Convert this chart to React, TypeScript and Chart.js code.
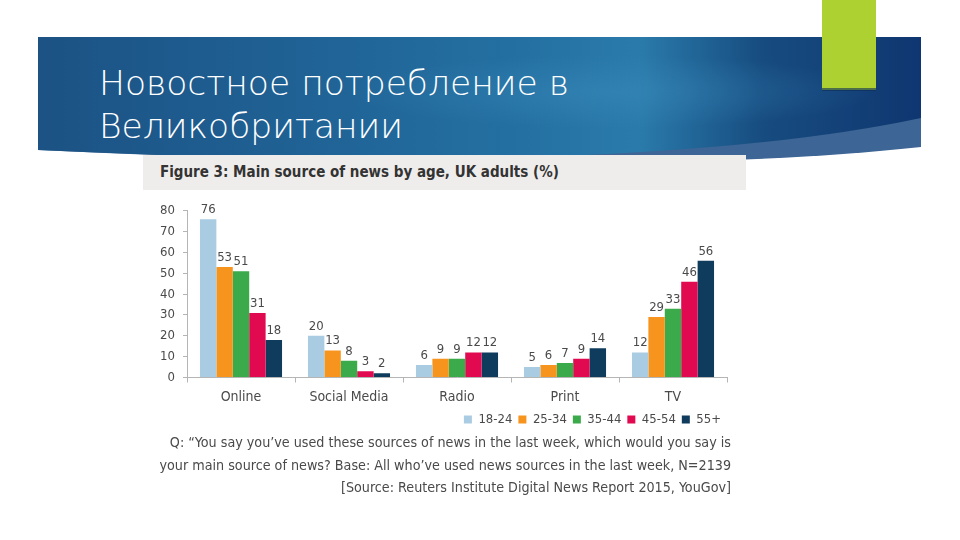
import React, { useEffect, useRef } from "react";
import { Chart, registerables } from "chart.js";

Chart.register(...registerables);

const categories = ["Online", "Social Media", "Radio", "Print", "TV"];
const ageGroups = ["18-24", "25-34", "35-44", "45-54", "55+"];
const age18to24 = [76, 20, 6, 5, 12];
const age25to34 = [53, 13, 9, 6, 29];
const age35to44 = [51, 8, 9, 7, 33];
const age45to54 = [31, 3, 12, 9, 46];
const age55plus = [18, 2, 12, 14, 56];
const seriesColors = ["#a9cce3", "#f7941d", "#3aaa4a", "#e10a50", "#0f3b5c"];
const yTicks = [0, 10, 20, 30, 40, 50, 60, 70, 80];

const slideTitle = ["Новостное потребление в", "Великобритании"];
const figureTitle = "Figure 3: Main source of news by age, UK adults (%)";
const footnote = [
  "Q: \u201CYou say you\u2019ve used these sources of news in the last week, which would you say is",
  "your main source of news? Base: All who\u2019ve used news sources in the last week, N=2139",
  "[Source: Reuters Institute Digital News Report 2015, YouGov]",
];

const FONT = '"Liberation Sans Narrow", "DejaVu Sans Condensed", "Open Sans", sans-serif';

const valueLabels = {
  id: "valueLabels",
  afterDatasetsDraw(chart: any) {
    const ctx = chart.ctx;
    ctx.save();
    ctx.font = `13px ${FONT}`;
    ctx.fillStyle = "#4a4a4a";
    ctx.textAlign = "center";
    ctx.textBaseline = "bottom";
    chart.data.datasets.forEach((ds: any, i: number) => {
      const meta = chart.getDatasetMeta(i);
      meta.data.forEach((bar: any, j: number) => {
        ctx.fillText(String(ds.data[j]), bar.x, bar.y - 3);
      });
    });
    ctx.restore();
  },
};

function BarChart() {
  const ref = useRef<HTMLCanvasElement>(null);
  useEffect(() => {
    const series = [age18to24, age25to34, age35to44, age45to54, age55plus];
    const chart = new Chart(ref.current!, {
      type: "bar",
      data: {
        labels: categories,
        datasets: series.map((d, i) => ({
          label: ageGroups[i],
          data: d,
          backgroundColor: seriesColors[i],
          categoryPercentage: 0.76,
          barPercentage: 1.0,
        })),
      },
      options: {
        animation: false,
        responsive: false,
        maintainAspectRatio: false,
        layout: { padding: { top: 13, right: 19, bottom: 4, left: 0 } },
        plugins: {
          legend: {
            position: "bottom",
            align: "end",
            labels: {
              boxWidth: 8,
              boxHeight: 8,
              padding: 6,
              color: "#4a4a4a",
              font: { size: 13, family: FONT },
            },
          },
          tooltip: { enabled: false },
          title: { display: false },
        },
        scales: {
          x: {
            grid: {
              display: true,
              drawOnChartArea: false,
              offset: true,
              tickLength: 5,
              color: "#b5b5b5",
            },
            border: { color: "#b5b5b5" },
            ticks: {
              color: "#4a4a4a",
              padding: 6,
              font: { size: 14, family: FONT },
            },
            afterFit(scale: any) {
              scale.height = 29.5;
            },
          },
          y: {
            min: 0,
            max: 80,
            grid: {
              display: true,
              drawOnChartArea: false,
              tickLength: 4,
              color: "#b5b5b5",
            },
            border: { color: "#b5b5b5" },
            afterBuildTicks(scale: any) {
              scale.ticks = yTicks.map((v) => ({ value: v }));
            },
            ticks: {
              color: "#4a4a4a",
              padding: 8,
              font: { size: 13, family: FONT },
            },
            afterFit(scale: any) {
              scale.width = 44;
            },
          },
        },
      },
      plugins: [valueLabels],
    });
    return () => chart.destroy();
  }, []);
  return (
    <canvas
      ref={ref}
      width={603}
      height={245}
      style={{ position: "absolute", left: 143, top: 195, width: 603, height: 245 }}
    />
  );
}

export default function App() {
  return (
    <div
      style={{
        position: "fixed",
        left: 0,
        top: 0,
        width: 960,
        height: 540,
        background: "#ffffff",
        overflow: "hidden",
      }}
    >
      <svg width={960} height={540} style={{ position: "absolute", left: 0, top: 0 }}>
        <defs>
          <linearGradient id="bannerGrad" x1="0" y1="0" x2="1" y2="0">
            <stop offset="0" stopColor="#1c5284" />
            <stop offset="0.25" stopColor="#1f5f92" />
            <stop offset="0.55" stopColor="#2470a2" />
            <stop offset="0.68" stopColor="#2a7bab" />
            <stop offset="0.82" stopColor="#174c80" />
            <stop offset="1" stopColor="#0f3670" />
          </linearGradient>
          <radialGradient id="glow" cx="0.65" cy="0.45" r="0.3">
            <stop offset="0" stopColor="#3d8fbf" stopOpacity="0.4" />
            <stop offset="1" stopColor="#3d8fbf" stopOpacity="0" />
          </radialGradient>
        </defs>
        <path d="M38,37 H921 V147 Q 640,178 38,150 Z" fill="#3d6595" />
        <path d="M38,37 H921 V118 Q 640,178 38,150 Z" fill="url(#bannerGrad)" />
        <path d="M38,37 H921 V118 Q 640,178 38,150 Z" fill="url(#glow)" />
        <rect x={822} y={0} width={54} height={90} fill="#acd130" />
        <rect x={822} y={88} width={54} height={3} fill="#0b2d5a" opacity={0.6} />
      </svg>
      <div
        style={{
          position: "absolute",
          left: 99,
          top: 62,
          color: "#ffffff",
          fontFamily: '"DejaVu Sans", sans-serif',
          fontWeight: 200,
          fontSize: 34.5,
          lineHeight: "43px",
          whiteSpace: "nowrap",
        }}
      >
        {slideTitle.map((t, i) => (
          <div key={i}>{t}</div>
        ))}
      </div>
      <div
        style={{
          position: "absolute",
          left: 143,
          top: 155,
          width: 603,
          height: 35,
          background: "#efedeb",
        }}
      />
      <div
        style={{
          position: "absolute",
          left: 160,
          top: 163,
          color: "#333333",
          fontFamily: FONT,
          fontWeight: 700,
          fontSize: 15,
          whiteSpace: "nowrap",
        }}
      >
        {figureTitle}
      </div>
      <BarChart />
      <div
        style={{
          position: "absolute",
          right: 960 - 731,
          top: 431,
          textAlign: "right",
          color: "#4a4a4a",
          fontFamily: FONT,
          fontSize: 14.2,
          lineHeight: "22.5px",
          whiteSpace: "nowrap",
        }}
      >
        {footnote.map((t, i) => (
          <div key={i}>{t}</div>
        ))}
      </div>
    </div>
  );
}
